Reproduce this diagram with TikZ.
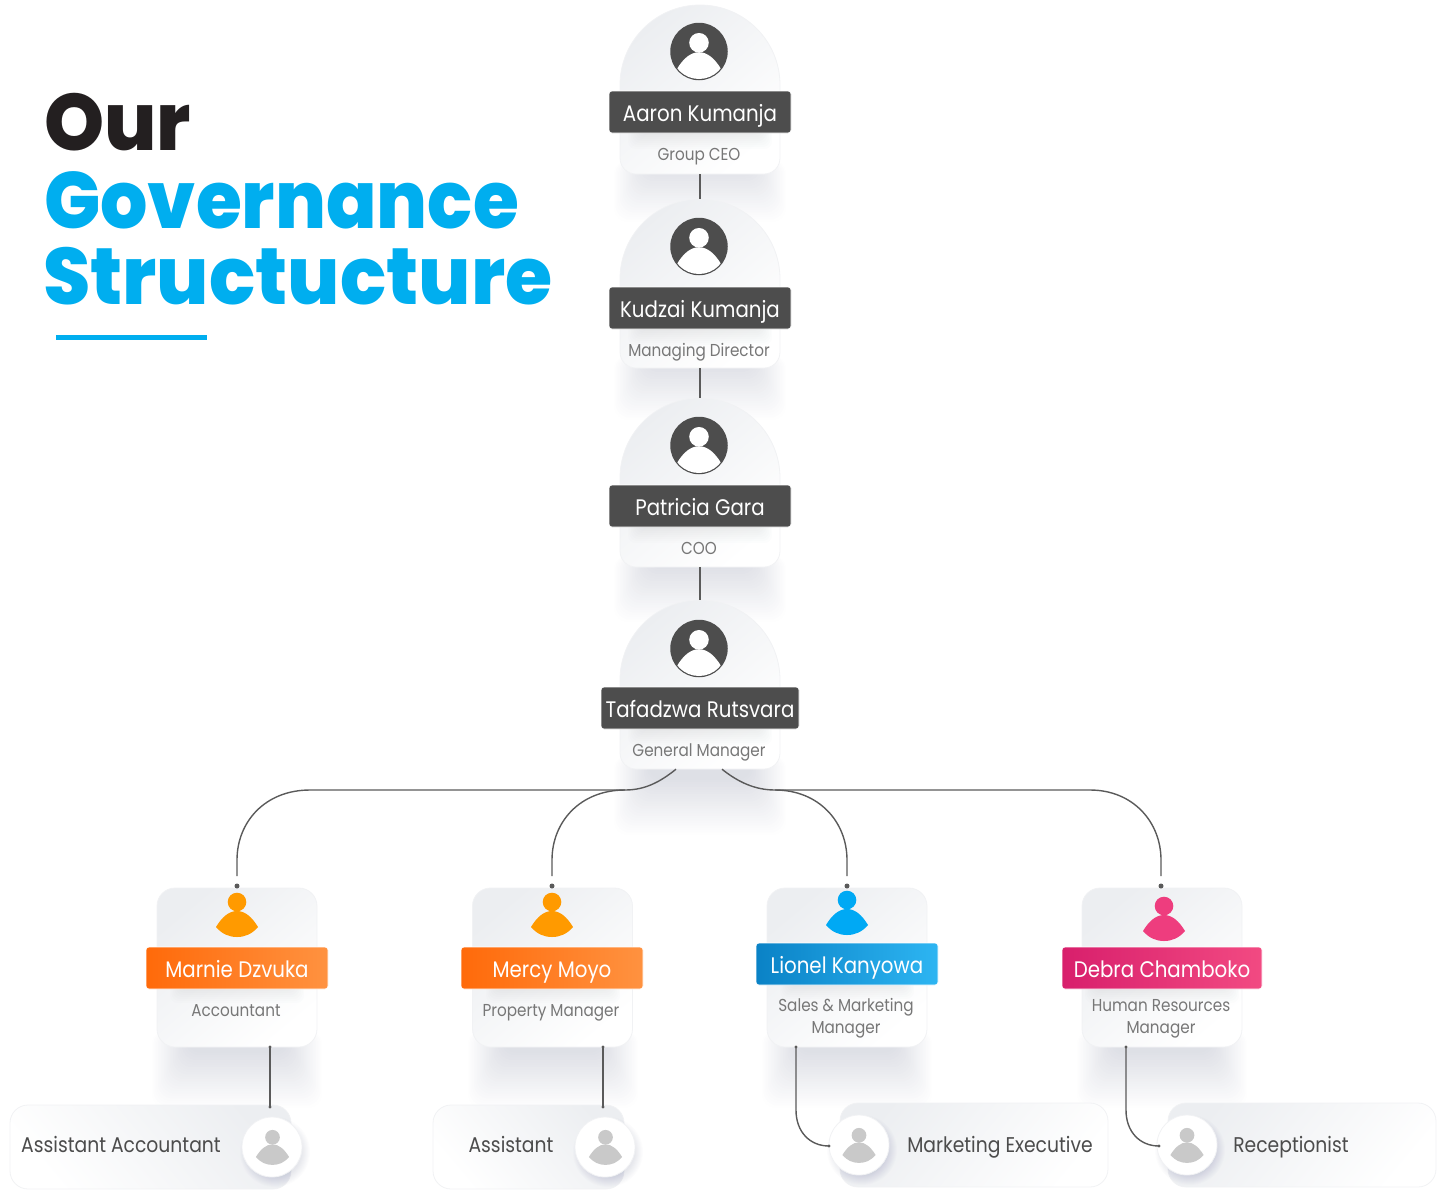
\documentclass[tikz,border=0pt]{standalone}
\usepackage{fontspec}
\setmainfont{Poppins}[FakeStretch=0.88]
\newfontfamily\titlef{Poppins ExtraBold}[FakeStretch=0.93]
\newfontfamily\titlefw{Poppins ExtraBold}[FakeStretch=0.955]
\usetikzlibrary{calc}
\definecolor{inkdark}{HTML}{231F20}
\definecolor{skyblue}{HTML}{00AEEF}
\definecolor{barDark}{HTML}{4D4D4D}
\definecolor{roleGrey}{HTML}{777777}
\definecolor{lineGrey}{HTML}{5A5A5A}
\definecolor{cardGrey}{HTML}{ECEEF1}
\definecolor{edgeGrey}{HTML}{F1F2F4}
\definecolor{shadowBlue}{HTML}{50587A}
\definecolor{personGrey}{HTML}{C9C9C9}
\definecolor{orA}{HTML}{FF6A0A}\definecolor{orB}{HTML}{FF9240}
\definecolor{blA}{HTML}{0A82C6}\definecolor{blB}{HTML}{2DB5F2}
\definecolor{piA}{HTML}{D81F6C}\definecolor{piB}{HTML}{F24A82}
\definecolor{perOr}{HTML}{FF9A00}\definecolor{perBl}{HTML}{00A9F4}\definecolor{perPi}{HTML}{EE3D7E}
\newcommand{\capstrut}{\rule[-.3em]{0pt}{1.3em}}
\newcommand{\namestrut}{\rule[-.2em]{0pt}{1.28em}}
\tikzset{
  namebar/.style={draw=white,line width=.6pt,rounded corners=3pt,inner sep=0pt,minimum height=42pt,text=white,font=\fontsize{22.5}{26}\selectfont},
  roletext/.style={text=roleGrey,align=center,font=\fontsize{17.3}{21}\selectfont,inner sep=0pt},
  subtext/.style={text=black!70,font=\fontsize{21.3}{26}\selectfont,inner sep=0pt},
  conn/.style={draw=lineGrey,line width=1.4pt},
  jdot/.style={circle,fill=lineGrey,inner sep=0pt,minimum size=#1},
  midcard/.style={draw=edgeGrey,line width=.8pt,rounded corners=18pt,minimum width=160pt,minimum height=159pt,inner sep=0pt,top color=cardGrey,bottom color=white,shading angle=40},
  lowcard/.style={draw=edgeGrey,line width=.8pt,rounded corners=18pt,minimum height=84pt,inner sep=0pt,top color=cardGrey,bottom color=white},
  ava/.style={circle,fill=white,draw=edgeGrey,line width=.8pt,minimum size=60pt,inner sep=0pt},
  dark/.style={circle,fill=barDark,minimum size=57.5pt,inner sep=0pt},
  bigtitle/.style={anchor=base west,inner sep=0pt,font=\fontsize{80}{80}\selectfont},
}
% soft shadow below a card: left, right, top, bottom of shadow
\newcommand{\softshadow}[4]{%
  \foreach \i in {0,...,23}{%
    \fill[shadowBlue,opacity=.0075,rounded corners=14pt]
      ({#1-8+\i*1.5},#3) rectangle ({#2+8-\i*1.5},{#4-\i*2.4});
  }}
\newcommand{\barshadow}[4]{%
  \foreach \i in {0,...,11}{%
    \fill[shadowBlue,opacity=.012,rounded corners=8pt]
      ({#1+\i*1.5},#3) rectangle ({#2-\i*1.5},{#4-\i*2});
  }}
\newcommand{\roundshadow}[3]{%
  \foreach \i in {0,...,11}{%
    \fill[shadowBlue,opacity=.014] ({#1+3},{#2+5}) circle ({#3+5-\i});
  }}
% person icon: x, y of the side points, scale, colour
\newcommand{\personicon}[4]{%
  \begin{scope}[shift={(#1,#2)},scale=#3]
    \fill[#4] (0,-25) circle (9.3);
    \fill[#4] (-21,0) .. controls (-15,-10) and (-8,-16) .. (0,-16)
       .. controls (8,-16) and (15,-10) .. (21,0)
       .. controls (15,7) and (8,10) .. (0,10)
       .. controls (-8,10) and (-15,7) .. (-21,0) -- cycle;
  \end{scope}}
% arched top card: id, top y, bar top y, name text, role text, bar width, avatar y
\newcommand{\archcard}[7]{%
  \shade[top color=cardGrey,bottom color=white,shading angle=40,draw=edgeGrey,line width=.8pt]
    (620,{#2+80}) .. controls (620,{#2+35.8}) and (655.8,#2) .. (700,#2)
    .. controls (744.2,#2) and (780,{#2+35.8}) .. (780,{#2+80})
    -- (780,{#2+153}) .. controls (780,{#2+162}) and (773,{#2+169}) .. (764,{#2+169})
    -- (636,{#2+169}) .. controls (627,{#2+169}) and (620,{#2+162}) .. (620,{#2+153}) -- cycle;
  \node[inner sep=0pt,minimum width=160pt,minimum height=169pt] (#1) at (700,{#2+84.5}) {};
  \barshadow{628}{772}{#3+30}{#3+58}
  \node[dark] (#1av) at (699,#7+.5) {};
  \begin{scope}
    \clip (699,#7+.5) circle (27.5);
    \personicon{699}{#7+18}{1.05}{white}
  \end{scope}
  \node[namebar,fill=barDark,minimum width=#6pt] (#1bar) at (700,{#3+21}) {\namestrut #4};
  \node[roletext] (#1role) at (699,{#3+63}) {\capstrut #5};
}
\begin{document}
\begin{tikzpicture}[x=1pt,y=-1pt]
\useasboundingbox (0,0) rectangle (1443,1192);
% shadows behind the cards
\softshadow{622}{778}{160}{222}
\softshadow{622}{778}{355}{420}
\softshadow{622}{778}{555}{622}
\softshadow{622}{778}{755}{835}
\softshadow{160}{314}{1030}{1108}
\softshadow{476}{630}{1030}{1108}
\softshadow{770}{924}{1030}{1108}
\softshadow{1085}{1239}{1030}{1108}

% title
\node[bigtitle,text=inkdark] (ttl1) at (44,150) {\titlefw Our};
\node[bigtitle,text=skyblue] (ttl2) at (44,228) {\titlef Governance};
\node[bigtitle,text=skyblue] (ttl3) at (43,304) {\titlefw Structucture};
\fill[skyblue] (56,335) rectangle (207,340);

% top column
\archcard{ceo}{5}{91}{Aaron Kumanja}{Group CEO}{182}{51}
\archcard{md}{199}{287}{Kudzai Kumanja}{Managing Director}{182}{246}
\archcard{coo}{398}{485}{Patricia Gara}{COO}{182}{445}
\archcard{gm}{600}{687}{Tafadzwa Rutsvara}{General Manager}{198}{648}

\draw[conn] (ceo.south) -- (md.north);
\draw[conn] (md.south) -- (coo.north);
\draw[conn] (coo.south) -- (gm.north);

% managers
\node[midcard] (mA) at (237,967.5) {};
\node[midcard] (mB) at (552.5,967.5) {};
\node[midcard] (mC) at (847,967.5) {};
\node[midcard] (mD) at (1162,967.5) {};

\barshadow{170}{304}{975}{1003}
\barshadow{486}{620}{975}{1003}
\barshadow{780}{914}{971}{999}
\barshadow{1085}{1239}{975}{1003}

\personicon{237}{927}{1}{perOr}
\personicon{552}{927}{1}{perOr}
\personicon{847}{925}{1}{perBl}
\personicon{1164}{931}{1}{perPi}

\node[namebar,left color=orA,right color=orB,minimum width=182pt] (bA) at (237,968) {\namestrut Marnie Dzvuka};
\node[namebar,left color=orA,right color=orB,minimum width=182pt] (bB) at (552,968) {\namestrut Mercy Moyo};
\node[namebar,left color=blA,right color=blB,minimum width=182pt] (bC) at (847,964) {\namestrut Lionel Kanyowa};
\node[namebar,left color=piA,right color=piB,minimum width=200pt] (bD) at (1162,968) {\namestrut Debra Chamboko};

\node[roletext] (rA) at (236,1010) {\capstrut Accountant};
\node[roletext] (rB) at (551,1010) {\capstrut Property Manager};
\node[roletext] (rC) at (846,1016) {\capstrut Sales \& Marketing\\[-1.5pt]\capstrut Manager};
\node[roletext] (rD) at (1161,1016) {\capstrut Human Resources\\[-1.5pt]\capstrut Manager};

% bottom row
\node[lowcard,minimum width=281pt,shading angle=-50] (lA) at (150.5,1147) {};
\node[lowcard,minimum width=191pt,shading angle=-50] (lB) at (528.5,1147) {};
\node[lowcard,minimum width=268pt,shading angle=50] (lC) at (974,1145) {};
\node[lowcard,minimum width=268pt,shading angle=50] (lD) at (1302,1145) {};

\roundshadow{272}{1147}{30}
\roundshadow{605}{1147}{30}
\roundshadow{859}{1145}{30}
\roundshadow{1187}{1145}{30}
\node[ava] (cA) at (272,1147) {};
\node[ava] (cB) at (605,1147) {};
\node[ava] (cC) at (859,1145) {};
\node[ava] (cD) at (1187,1145) {};
\personicon{272.5}{1157}{.79}{personGrey}
\personicon{605.5}{1157}{.79}{personGrey}
\personicon{859}{1155}{.79}{personGrey}
\personicon{1187}{1155}{.79}{personGrey}

\node[subtext] (tA) at (121,1145) {\capstrut Assistant Accountant};
\node[subtext] (tB) at (511,1145) {\capstrut Assistant};
\node[subtext] (tC) at (1000,1145) {\capstrut Marketing Executive};
\node[subtext] (tD) at (1291,1145) {\capstrut Receptionist};

% connectors
\node[jdot=5pt] (dA) at (237,886) {};
\node[jdot=5pt] (dB) at (552,886) {};
\node[jdot=5pt] (dC) at (847,886) {};
\node[jdot=5pt] (dD) at (1161,886) {};
\coordinate (jL) at (625,790);
\coordinate (jR) at (775,790);
\draw[conn] ([xshift=-24pt]gm.south) .. controls (660,782) and (645,790) .. (jL)
   -- (310,790) .. controls (265,790) and (237,822) .. (237,860) -- ([yshift=10pt]dA.center);
\draw[conn] (jL) .. controls (580,790) and (552,822) .. (552,860) -- ([yshift=10pt]dB.center);
\draw[conn] ([xshift=22pt]gm.south) .. controls (738,782) and (755,790) .. (jR)
   -- (1090,790) .. controls (1133,790) and (1161,822) .. (1161,860) -- ([yshift=10pt]dD.center);
\draw[conn] (jR) .. controls (819,790) and (847,822) .. (847,860) -- ([yshift=10pt]dC.center);

\coordinate (sA) at (270,1047); \coordinate (sB) at (603,1047);
\coordinate (sC) at (796,1047); \coordinate (sD) at (1126,1047);
\coordinate (eA) at (270,1107); \coordinate (eB) at (603,1107);
\coordinate (eC) at (829,1146); \coordinate (eD) at (1159,1146);
\draw[conn] (sA) -- (eA);
\draw[conn] (sB) -- (eB);
\draw[conn] (sC) -- (796,1110) .. controls (796,1132) and (810,1146) .. (eC);
\draw[conn] (sD) -- (1126,1110) .. controls (1126,1132) and (1140,1146) .. (eD);
\foreach \p in {sA,sB,sC,sD,eA,eB,eC,eD} \fill[lineGrey] (\p) circle (1.7);
\end{tikzpicture}
\end{document}
